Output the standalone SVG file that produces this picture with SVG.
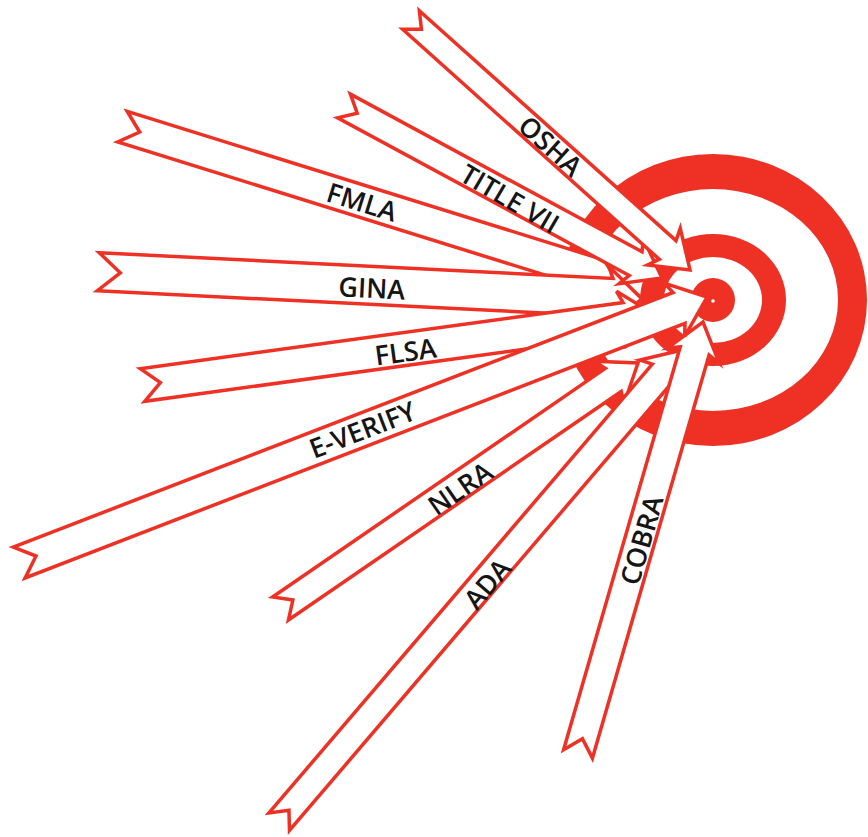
<svg xmlns="http://www.w3.org/2000/svg" width="868" height="837" viewBox="0 0 868 837">
<style>
.arrow polygon { fill:#ffffff; stroke:#ee3124; stroke-width:3.5; stroke-linejoin:miter; }
.arrow text { font-family:"Open Sans","Noto Sans","Liberation Sans",sans-serif; font-weight:600; font-size:27px; fill:#151515; text-anchor:middle; dominant-baseline:central; }
.ring { fill:#ee3124; fill-rule:evenodd; }
</style>
<rect width="868" height="837" fill="#ffffff"/>
<g id="target">
<path class="ring" d="M559,300 a154,146 0 1,0 308,0 a154,146 0 1,0 -308,0 Z M588,300 a125,111 0 1,0 250,0 a125,111 0 1,0 -250,0 Z"/>
<path class="ring" d="M640,300 a73,66 0 1,0 146,0 a73,66 0 1,0 -146,0 Z M664,300 a49,43 0 1,0 98,0 a49,43 0 1,0 -98,0 Z"/>
<circle cx="713" cy="300" r="22" fill="#ee3124"/>
<circle cx="713" cy="301" r="1.8" fill="#ffffff"/>
</g>
<g id="arrows">
<g id="fmla" class="arrow" transform="translate(122.5,126.7) rotate(17.30)">
<polygon points="0,-16 489,-16 484,-28 519,0 484,28 489,16 0,16 18,0"/>
<text x="251" y="0">FMLA</text>
</g>
<g id="gina" class="arrow" transform="translate(98.3,271.7) rotate(2.87)">
<polygon points="0,-19 514.4,-19 509.4,-31 544.4,0 509.4,31 514.4,19 0,19 22,0"/>
<text x="274" y="2">GINA</text>
</g>
<g id="title-vii" class="arrow" transform="translate(344,106) rotate(28.4)">
<polygon points="0,-13.5 331.5,-13.5 326.5,-25.5 361.5,0 326.5,25.5 331.5,13.5 0,13.5 15,0"/>
<text x="190" y="2" transform="rotate(2,190,2)">TITLE VII</text>
</g>
<g id="osha" class="arrow" transform="translate(411,20) rotate(41.86)">
<polygon points="0,-12.5 344.6,-12.5 339.6,-24.5 374.6,0 339.6,24.5 344.6,12.5 0,12.5 14,0"/>
<text x="188" y="0">OSHA</text>
</g>
<g id="flsa" class="arrow" transform="translate(142.5,385) rotate(-7.8)">
<polygon points="0,-16.5 487.3,-16.5 482.3,-28.5 517.3,0 482.3,28.5 487.3,16.5 0,16.5 18,0"/>
<text x="265" y="2">FLSA</text>
</g>
<g id="nlra" class="arrow" transform="translate(280.5,608.5) rotate(-34.48)">
<polygon points="0,-14 403.7,-14 398.7,-26 433.7,0 398.7,26 403.7,14 0,14 15,0"/>
<text x="216" y="2">NLRA</text>
</g>
<g id="ada" class="arrow" transform="translate(279.2,821.7) rotate(-49.5)">
<polygon points="0,-13.5 590.3,-13.5 585.3,-25.5 620.3,0 585.3,25.5 590.3,13.5 0,13.5 15,0"/>
<text x="316" y="3">ADA</text>
</g>
<g id="cobra" class="arrow" transform="translate(578,754) rotate(-73.86)">
<polygon points="0,-15 419.7,-15 414.7,-27 449.7,0 414.7,27 419.7,15 0,15 16,0"/>
<text x="223" y="1">COBRA</text>
</g>
<g id="e-verify" class="arrow" transform="translate(19.2,562.5) rotate(-21.10)">
<polygon points="0,-16.5 707.3,-16.5 702.3,-28.5 737.3,0 702.3,28.5 707.3,16.5 0,16.5 18,0"/>
<text x="368" y="-1">E-VERIFY</text>
</g>
</g>
</svg>
